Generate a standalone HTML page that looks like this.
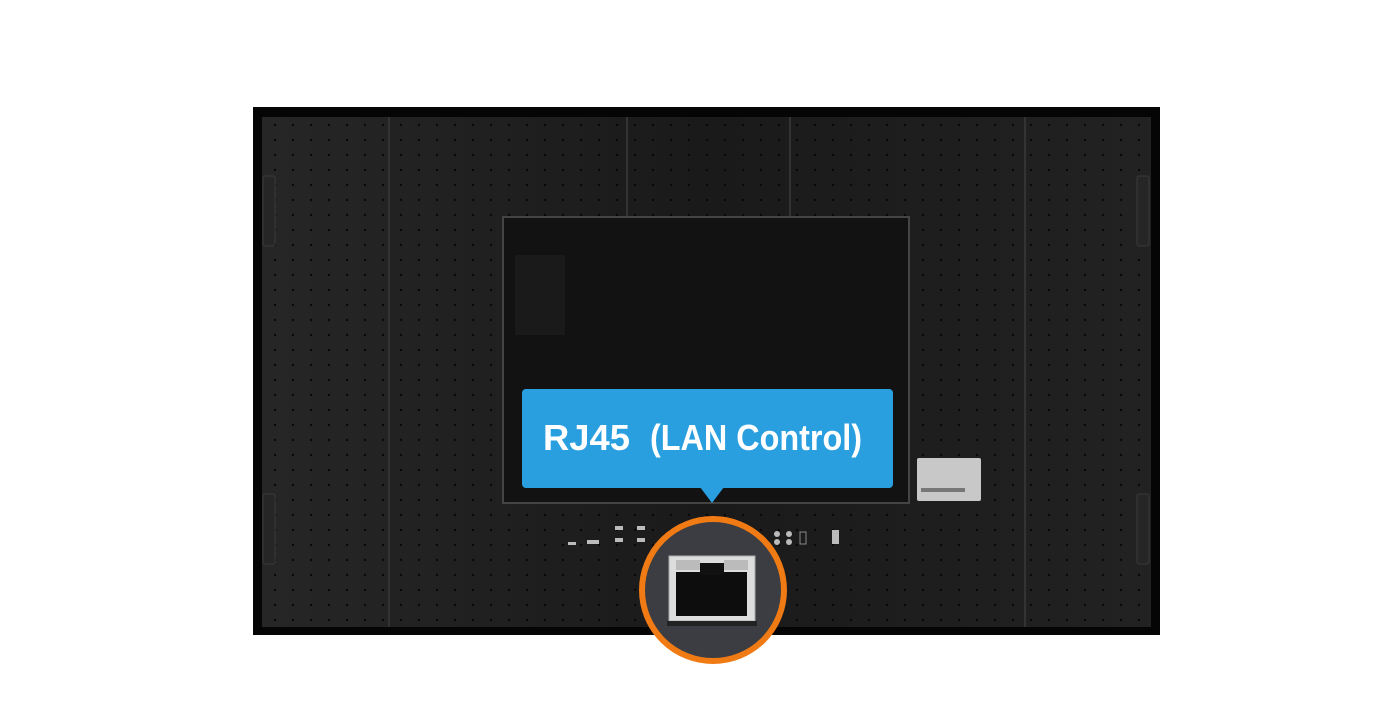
<!DOCTYPE html>
<html><head><meta charset="utf-8"><style>
html,body{margin:0;padding:0;background:#fff;width:1400px;height:717px;overflow:hidden}
</style></head><body>
<svg width="1400" height="717" viewBox="0 0 1400 717" xmlns="http://www.w3.org/2000/svg">
<defs>
<pattern id="dots" x="0" y="0" width="18" height="15" patternUnits="userSpaceOnUse">
<circle cx="5" cy="5" r="1.2" fill="#080808"/>
</pattern>
<linearGradient id="pg" x1="0" y1="0" x2="1" y2="0">
<stop offset="0" stop-color="#262626"/><stop offset="0.5" stop-color="#1a1a1a"/><stop offset="1" stop-color="#222"/>
</linearGradient>
</defs>
<rect x="0" y="0" width="1400" height="717" fill="#fff"/>
<rect x="253" y="107" width="907" height="528" fill="#050505"/>
<rect x="262" y="117" width="889" height="510" fill="url(#pg)"/>
<rect x="262" y="117" width="889" height="510" fill="url(#dots)"/>
<g stroke="#333" stroke-width="2">
<line x1="389" y1="117" x2="389" y2="627"/>
<line x1="627" y1="117" x2="627" y2="217"/>
<line x1="790" y1="117" x2="790" y2="217"/>
<line x1="1025" y1="117" x2="1025" y2="627"/>
</g>
<g fill="#262626" stroke="#3a3a3a">
<rect x="263" y="176" width="12" height="70" rx="2"/>
<rect x="263" y="494" width="12" height="70" rx="2"/>
<rect x="1137" y="176" width="12" height="70" rx="2"/>
<rect x="1137" y="494" width="12" height="70" rx="2"/>
</g>
<rect x="503" y="217" width="406" height="286" fill="#121212" stroke="#444" stroke-width="2"/>
<rect x="515" y="255" width="50" height="80" fill="#1a1a1a"/>
<rect x="917" y="458" width="64" height="43" fill="#c8c8c8" rx="2"/>
<rect x="921" y="488" width="44" height="4" fill="#777"/>
<g fill="#bbb">
<rect x="615" y="526" width="8" height="4"/><rect x="637" y="526" width="8" height="4"/>
<rect x="615" y="538" width="8" height="4"/><rect x="637" y="538" width="8" height="4"/>
<rect x="587" y="540" width="12" height="4"/><rect x="568" y="542" width="8" height="3"/>
<circle cx="777" cy="534" r="3"/><circle cx="789" cy="534" r="3"/>
<circle cx="777" cy="542" r="3"/><circle cx="789" cy="542" r="3"/>
<rect x="832" y="530" width="7" height="14"/>
<rect x="800" y="532" width="6" height="12" fill="none" stroke="#888"/>
</g>
<rect x="522" y="389" width="371" height="99" rx="4" fill="#2a9fe0"/>
<polygon points="700,487 724,487 712,503" fill="#2a9fe0"/>
<g font-family="Liberation Sans, sans-serif" font-weight="bold" font-size="36" fill="#fff">
<text x="543" y="450" textLength="87" lengthAdjust="spacingAndGlyphs">RJ45</text>
<text x="650" y="450" textLength="212" lengthAdjust="spacingAndGlyphs">(LAN Control)</text>
</g>
<circle cx="713" cy="590" r="71" fill="#3b3d42" stroke="#f07a14" stroke-width="6"/>
<rect x="669" y="556" width="86" height="65" fill="#ddd" stroke="#aaa"/>
<rect x="676" y="572" width="71" height="44" fill="#0d0d0d"/>
<rect x="676" y="560" width="24" height="10" fill="#bbb"/>
<rect x="724" y="560" width="24" height="10" fill="#bbb"/>
<rect x="700" y="563" width="24" height="12" fill="#111"/>
<rect x="667" y="621" width="90" height="5" fill="#222"/>
</svg>
</body></html>
